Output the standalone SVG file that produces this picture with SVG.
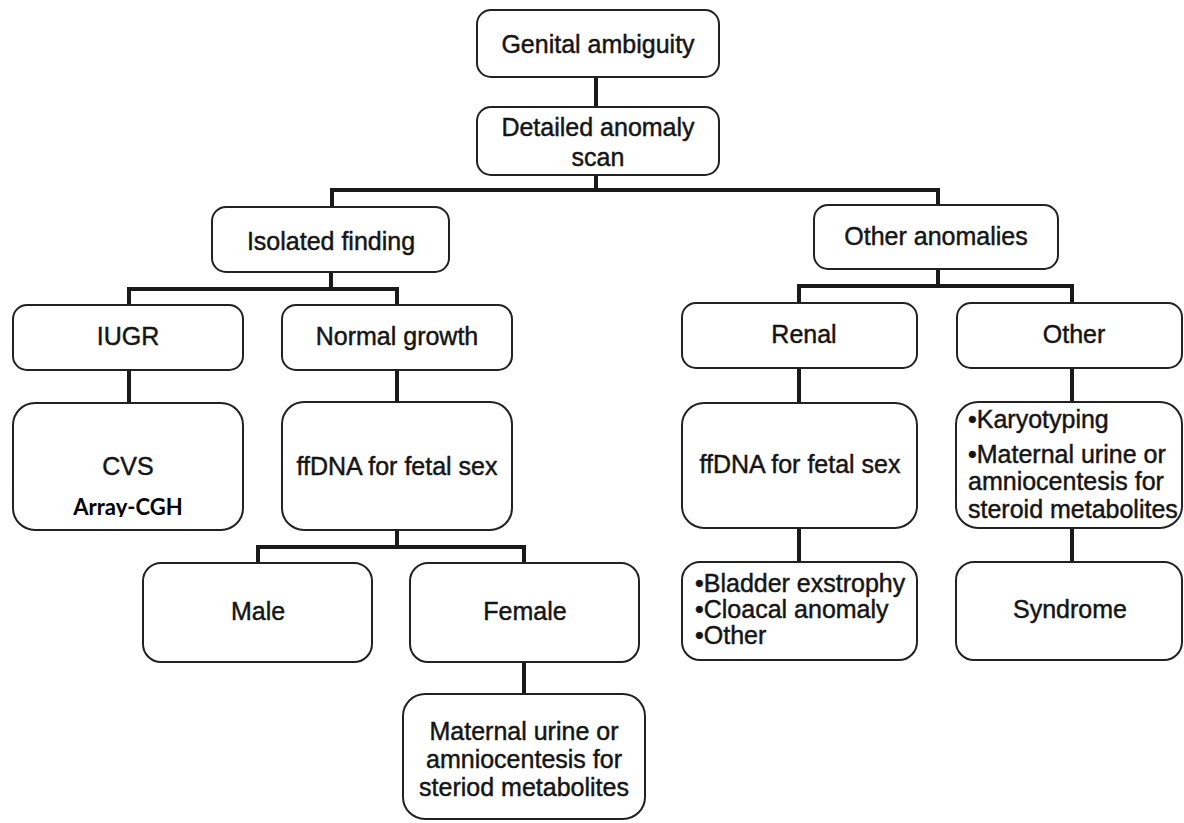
<svg xmlns="http://www.w3.org/2000/svg" width="1184" height="823" viewBox="0 0 1184 823">
<style>
.box{fill:#fff;stroke:#222;stroke-width:2}
.t{font-family:"Liberation Sans",Arial,sans-serif;font-size:25px;fill:#151515;stroke:#151515;stroke-width:0.45}
.c{text-anchor:middle}
.cgh{font-family:Lato,"Liberation Sans",sans-serif;font-weight:bold;font-size:22px;fill:#000;text-anchor:middle}
.conn{fill:none;stroke:#1a1a1a;stroke-width:4;stroke-linecap:square}
</style>
<defs>
<clipPath id="cghclip"><rect x="13" y="480" width="230" height="37"/></clipPath>
</defs>
<rect width="1184" height="823" fill="#fff"/>
<g id="connectors">
<path class="conn" d="M596 77V107"/>
<path class="conn" d="M596 175V190M332 190H938M332 190V207M938 190V205"/>
<path class="conn" d="M331 272V289M129 289H397M129 289V305M397 289V305"/>
<path class="conn" d="M938 269V286M799 286H1072M799 286V303M1072 286V303"/>
<path class="conn" d="M129 370V403"/>
<path class="conn" d="M397 370V402"/>
<path class="conn" d="M397 530V547M258 547H524M258 547V563M524 547V563"/>
<path class="conn" d="M524 662V694"/>
<path class="conn" d="M799 368V403M799 528V562"/>
<path class="conn" d="M1072 368V402M1072 528V562"/>
</g>
<g id="genital-ambiguity">
<rect class="box" x="477" y="10" width="242" height="67" rx="14"/>
<text class="t c" x="598" y="53">Genital ambiguity</text>
</g>
<g id="detailed-anomaly-scan">
<rect class="box" x="477" y="107" width="242" height="68" rx="14"/>
<text class="t c" x="598" y="136">Detailed anomaly</text>
<text class="t c" x="598" y="166">scan</text>
</g>
<g id="isolated-finding">
<rect class="box" x="212" y="207" width="237" height="65" rx="14"/>
<text class="t c" x="331" y="250">Isolated finding</text>
</g>
<g id="other-anomalies">
<rect class="box" x="814" y="205" width="244" height="64" rx="14"/>
<text class="t c" x="936" y="245">Other anomalies</text>
</g>
<g id="iugr">
<rect class="box" x="13" y="305" width="230" height="65" rx="14"/>
<text class="t c" x="128" y="345">IUGR</text>
</g>
<g id="normal-growth">
<rect class="box" x="282" y="305" width="230" height="65" rx="14"/>
<text class="t c" x="397" y="345">Normal growth</text>
</g>
<g id="renal">
<rect class="box" x="682" y="303" width="235" height="65" rx="14"/>
<text class="t c" x="804" y="343">Renal</text>
</g>
<g id="other">
<rect class="box" x="957" y="303" width="225" height="65" rx="14"/>
<text class="t c" x="1074" y="343">Other</text>
</g>
<g id="cvs">
<rect class="box" x="13" y="403" width="230" height="127" rx="22"/>
<text class="t c" x="128" y="475">CVS</text>
<text class="cgh" x="128" y="515" clip-path="url(#cghclip)">Array-CGH</text>
</g>
<g id="ffdna-left">
<rect class="box" x="282" y="402" width="230" height="128" rx="22"/>
<text class="t c" x="397" y="475">ffDNA for fetal sex</text>
</g>
<g id="male">
<rect class="box" x="143" y="563" width="229" height="99" rx="18"/>
<text class="t c" x="258" y="620">Male</text>
</g>
<g id="female">
<rect class="box" x="410" y="563" width="229" height="99" rx="18"/>
<text class="t c" x="525" y="620">Female</text>
</g>
<g id="maternal-urine">
<rect class="box" x="403" y="694" width="242" height="125" rx="22"/>
<text class="t c" x="524" y="740">Maternal urine or</text>
<text class="t c" x="524" y="768">amniocentesis for</text>
<text class="t c" x="524" y="796">steriod metabolites</text>
</g>
<g id="ffdna-right">
<rect class="box" x="682" y="403" width="235" height="125" rx="22"/>
<text class="t c" x="800" y="473">ffDNA for fetal sex</text>
</g>
<g id="renal-outcomes">
<rect class="box" x="682" y="562" width="235" height="98" rx="18"/>
<text class="t" x="695" y="592">•Bladder exstrophy</text>
<text class="t" x="695" y="618">•Cloacal anomaly</text>
<text class="t" x="695" y="644">•Other</text>
</g>
<g id="karyotyping">
<rect class="box" x="956" y="402" width="226" height="126" rx="22"/>
<text class="t" x="968" y="428">•Karyotyping</text>
<text class="t" x="968" y="463">•Maternal urine or</text>
<text class="t" x="968" y="490">amniocentesis for</text>
<text class="t" x="968" y="518">steroid metabolites</text>
</g>
<g id="syndrome">
<rect class="box" x="956" y="562" width="226" height="98" rx="18"/>
<text class="t c" x="1070" y="618">Syndrome</text>
</g>
</svg>
